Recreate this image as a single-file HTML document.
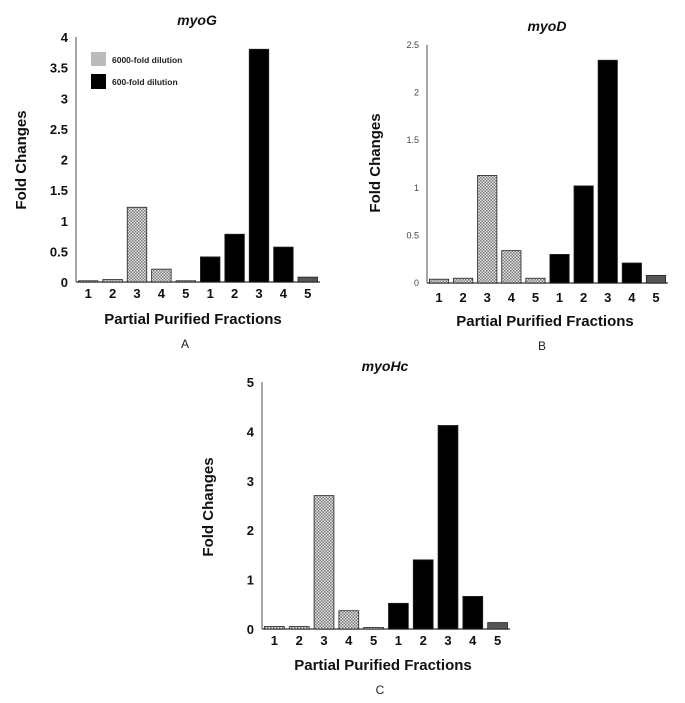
<!DOCTYPE html>
<html><head><meta charset="utf-8"><style>
html,body{margin:0;padding:0;background:#fff;}
svg{display:block;font-family:"Liberation Sans",Arial,sans-serif;}
</style></head><body>
<svg id="fig" width="685" height="703" viewBox="0 0 685 703" xmlns="http://www.w3.org/2000/svg">
<defs>
<pattern id="chk" width="3" height="3" patternUnits="userSpaceOnUse">
<rect width="3" height="3" fill="#e4e4e4"/>
<rect width="1.5" height="1.5" fill="#7a7a7a"/>
<rect x="1.5" y="1.5" width="1.5" height="1.5" fill="#7a7a7a"/>
</pattern>
</defs>
</svg>
<script>
const categories = ["1","2","3","4","5","1","2","3","4","5"];
const myoGValues = [0.02,0.04,1.22,0.21,0.02,0.41,0.78,3.8,0.57,0.08];
const myoDValues = [0.04,0.05,1.13,0.34,0.05,0.30,1.02,2.34,0.21,0.08];
const myoHcValues = [0.05,0.05,2.7,0.37,0.03,0.52,1.4,4.12,0.66,0.13];
const myoGTicks = ["0","0.5","1","1.5","2","2.5","3","3.5","4"];
const myoDTicks = ["0","0.5","1","1.5","2","2.5"];
const myoHcTicks = ["0","1","2","3","4","5"];
const legendLabels = ["6000-fold dilution","600-fold dilution"];

const svg = document.getElementById('fig');
const NS = "http://www.w3.org/2000/svg";
function mk(tag, attrs, parent){
  const e = document.createElementNS(NS, tag);
  for (const k in attrs) e.setAttribute(k, attrs[k]);
  (parent||svg).appendChild(e);
  return e;
}
function txt(s, attrs, parent){ const e = mk('text', attrs, parent); e.textContent = s; return e; }

function chart(cfg){
  const g = mk('g', {});
  
  
  const maxV = parseFloat(cfg.ticks[cfg.ticks.length-1]);
  const y = v => cfg.y0 - (v / maxV) * (cfg.y0 - cfg.yTop);
  const slot = (cfg.xEnd - cfg.x0) / cfg.values.length;
  const x = i => cfg.x0 + slot * i;
  // axes
  const ya = mk('line', {x1:cfg.x0, y1:cfg.yTop, x2:cfg.x0, y2:cfg.y0, stroke:'#888', 'stroke-width':1.5}, g);
  
  
  const xa = mk('line', {x1:cfg.x0, y1:cfg.y0, x2:cfg.xEnd, y2:cfg.y0, stroke:'#555', 'stroke-width':1.5}, g);
  
  
  cfg.ticks.forEach(t => {
    const e = txt(t, {x:cfg.x0-8, y:y(parseFloat(t))+ (cfg.small?3:5), 'text-anchor':'end',
      'font-size':cfg.small?9:13, 'font-weight':cfg.small?'normal':'bold', fill:cfg.small?'#444':'#111'}, g);
    
    
  });
  cfg.values.forEach((v, i) => {
    const bx = x(i) + slot*0.1, bw = slot*0.8;
    let fill = i < 5 ? 'url(#chk)' : (i === 9 ? '#555' : '#000');
    const r = mk('rect', {x:bx, y:y(v), width:bw, height:cfg.y0 - y(v), fill:fill, stroke:'#222', 'stroke-width':0.8}, g);
    
    
    const l = txt(categories[i], {x:x(i)+slot/2, y:cfg.tickY, 'text-anchor':'middle', 'font-size':13, 'font-weight':'bold', fill:'#111'}, g);
    
    
  });
  const t = txt(cfg.title, {x:cfg.titleX, y:cfg.titleY, 'text-anchor':'middle', 'font-size':14, 'font-weight':'bold', 'font-style':'italic', fill:'#111'}, g);
  
  
  const yt = txt('Fold Changes', {x:0, y:0, transform:`translate(${cfg.yTitleX},${cfg.yTitleY}) rotate(-90)`, 'text-anchor':'middle', 'font-size':15, 'font-weight':'bold', fill:'#111'}, g);
  
  
  const xt = txt('Partial Purified Fractions', {x:cfg.xTitleX, y:cfg.xTitleY, 'text-anchor':'middle', 'font-size':15, 'font-weight':'bold', fill:'#111'}, g);
  
  
  const pl = txt(cfg.panel, {x:cfg.panelX, y:cfg.panelY, 'text-anchor':'middle', 'font-size':12, fill:'#222'}, g);
  
  
}

chart({name:'chart-myoG', values:myoGValues, ticks:myoGTicks, x0:76, xEnd:320, y0:282, yTop:37,
  tickY:298, title:'myoG', titleX:197, titleY:25, yTitleX:26, yTitleY:160, xTitleX:193, xTitleY:324,
  panel:'A', panelX:185, panelY:348});
chart({name:'chart-myoD', values:myoDValues, ticks:myoDTicks, x0:427, xEnd:668, y0:283, yTop:45, small:true,
  tickY:302, title:'myoD', titleX:547, titleY:31, yTitleX:380, yTitleY:163, xTitleX:545, xTitleY:326,
  panel:'B', panelX:542, panelY:350});
chart({name:'chart-myoHc', values:myoHcValues, ticks:myoHcTicks, x0:262, xEnd:510, y0:629, yTop:382,
  tickY:645, title:'myoHc', titleX:385, titleY:371, yTitleX:213, yTitleY:507, xTitleX:383, xTitleY:670,
  panel:'C', panelX:380, panelY:694});

// legend (chart A)
const lg = mk('g', {});


const s1 = mk('rect', {x:91, y:52, width:15, height:14, fill:'#bbb'}, lg);


const s2 = mk('rect', {x:91, y:74, width:15, height:15, fill:'#000'}, lg);


const l1 = txt(legendLabels[0], {x:112, y:63, 'font-size':8.5, 'font-weight':'bold', fill:'#222'}, lg);


const l2 = txt(legendLabels[1], {x:112, y:85, 'font-size':8.5, 'font-weight':'bold', fill:'#222'}, lg);


</script>
</body></html>
